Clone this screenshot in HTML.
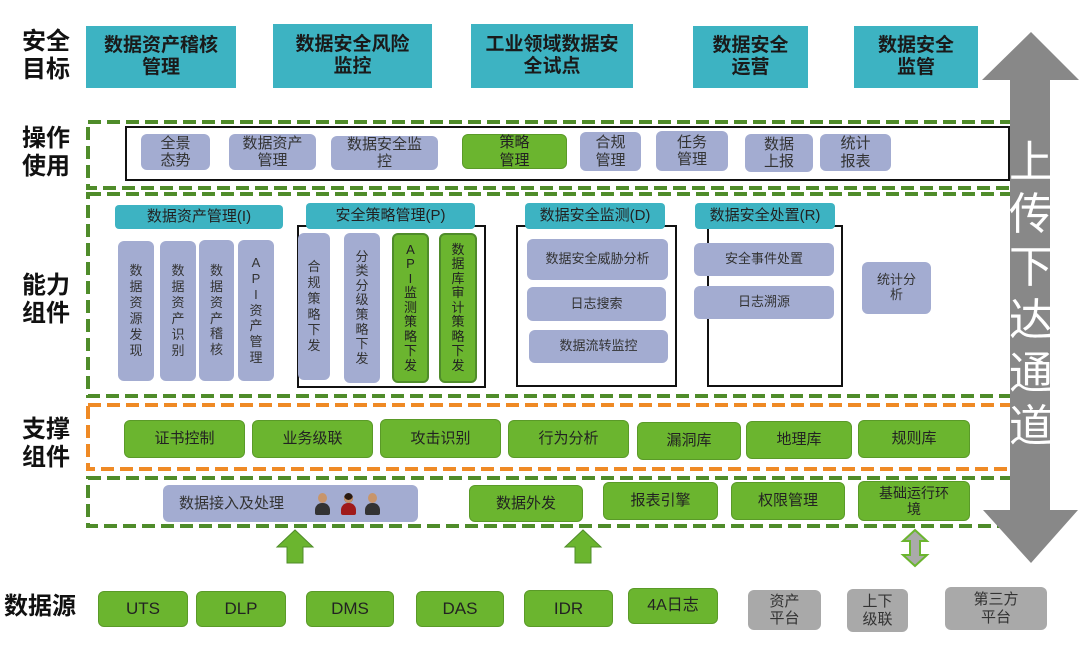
<!DOCTYPE html>
<html><head><meta charset="utf-8"><style>
body{margin:0;width:1080px;height:645px;position:relative;background:#fff;overflow:hidden;font-family:"Liberation Sans","Noto Sans CJK SC",sans-serif;color:#222}
.a{position:absolute;display:flex;align-items:center;justify-content:center;text-align:center;box-sizing:border-box;line-height:1.15}
.t{background:#3db3c2;font-weight:bold;font-size:19px;color:#1a1a1a}
.l{background:#a3acd1;border-radius:6px;font-size:15px;color:#333}
.g{background:#6bb52f;border-radius:6px;font-size:15px;color:#222;border:1px solid #5a9a28}
.gy{background:#a9a9a9;border-radius:6px;font-size:15px;color:#333}
.lab{position:absolute;font-weight:bold;font-size:24px;line-height:1.15;color:#111}
.v{font-size:13px;line-height:1.22;padding:0}
.hd{background:#3db3c2;border-radius:4px;font-size:15px;color:#222}
.box{position:absolute;border:2px solid #111;box-sizing:border-box}
.p{display:inline-block;width:14px;height:22px;margin-left:3px;position:relative;vertical-align:middle}
.p:before{content:"";position:absolute;left:3px;top:0;width:9px;height:10px;border-radius:50%;background:#c8956a}
.p:after{content:"";position:absolute;left:0;top:10px;width:15px;height:12px;border-radius:7px 7px 2px 2px;background:#333}
.p.r:after{background:#a01a1a}
.p.r:before{background:#2a1a10;box-shadow:inset 0 -3px 0 #c8956a}
</style></head><body>
<svg width="1080" height="645" style="position:absolute;left:0;top:0">
<g fill="none" stroke-width="4" stroke-dasharray="13,6">
<rect x="88" y="122" width="950" height="66" stroke="#4f8c2a"/>
<rect x="88" y="194" width="950" height="202" stroke="#4f8c2a"/>
<rect x="88" y="405" width="950" height="64" stroke="#ef8a25"/>
<rect x="88" y="478" width="950" height="48" stroke="#4f8c2a"/>
</g>
<polygon points="1031,32 1079,80 1050,80 1050,510 1078,510 1031,563 983,510 1010,510 1010,80 982,80" fill="#888"/>
<polygon points="277,547 295,530 313,547 303,547 303,563 287,563 287,547" fill="#6bb52f" stroke="#4f8c2a"/>
<polygon points="565,547 583,530 601,547 591,547 591,563 575,563 575,547" fill="#6bb52f" stroke="#4f8c2a"/>
<polygon points="915,530 927,541 920,541 920,555 927,555 915,566 903,555 910,555 910,541 903,541" fill="#aaa" stroke="#6bb52f" stroke-width="2"/>
</svg>
<div class="a" style="left:1000px;top:135px;width:62px;height:320px;flex-direction:column;color:#fff;font-size:44px;line-height:1.2">上<br>传<br>下<br>达<br>通<br>道</div>

<div class="lab" style="left:22px;top:28px">安全<br>目标</div>
<div class="lab" style="left:22px;top:125px">操作<br>使用</div>
<div class="lab" style="left:22px;top:272px">能力<br>组件</div>
<div class="lab" style="left:22px;top:416px">支撑<br>组件</div>
<div class="lab" style="left:4px;top:593px">数据源</div>

<div class="a t" style="left:86px;top:26px;width:150px;height:62px">数据资产稽核<br>管理</div>
<div class="a t" style="left:273px;top:24px;width:159px;height:64px">数据安全风险<br>监控</div>
<div class="a t" style="left:471px;top:24px;width:162px;height:64px">工业领域数据安<br>全试点</div>
<div class="a t" style="left:693px;top:26px;width:115px;height:62px">数据安全<br>运营</div>
<div class="a t" style="left:854px;top:26px;width:124px;height:62px">数据安全<br>监管</div>

<div class="box" style="left:125px;top:126px;width:885px;height:55px"></div>
<div class="a l" style="left:141px;top:134px;width:69px;height:36px">全景<br>态势</div>
<div class="a l" style="left:229px;top:134px;width:87px;height:36px">数据资产<br>管理</div>
<div class="a l" style="left:331px;top:136px;width:107px;height:34px">数据安全监<br>控</div>
<div class="a g" style="left:462px;top:134px;width:105px;height:35px">策略<br>管理</div>
<div class="a l" style="left:580px;top:132px;width:61px;height:39px">合规<br>管理</div>
<div class="a l" style="left:656px;top:131px;width:72px;height:40px">任务<br>管理</div>
<div class="a l" style="left:745px;top:134px;width:68px;height:38px">数据<br>上报</div>
<div class="a l" style="left:820px;top:134px;width:71px;height:37px">统计<br>报表</div>

<div class="box" style="left:297px;top:225px;width:189px;height:163px"></div>
<div class="box" style="left:516px;top:225px;width:161px;height:162px"></div>
<div class="box" style="left:707px;top:225px;width:136px;height:162px"></div>
<div class="a hd" style="left:115px;top:205px;width:168px;height:24px">数据资产管理(I)</div>
<div class="a hd" style="left:306px;top:203px;width:169px;height:26px">安全策略管理(P)</div>
<div class="a hd" style="left:525px;top:203px;width:140px;height:26px">数据安全监测(D)</div>
<div class="a hd" style="left:695px;top:203px;width:140px;height:26px">数据安全处置(R)</div>

<div class="a l v" style="left:118px;top:241px;width:36px;height:140px">数<br>据<br>资<br>源<br>发<br>现</div>
<div class="a l v" style="left:160px;top:241px;width:36px;height:140px">数<br>据<br>资<br>产<br>识<br>别</div>
<div class="a l v" style="left:199px;top:240px;width:35px;height:141px">数<br>据<br>资<br>产<br>稽<br>核</div>
<div class="a l v" style="left:238px;top:240px;width:36px;height:141px">A<br>P<br>I<br>资<br>产<br>管<br>理</div>
<div class="a l v" style="left:298px;top:233px;width:32px;height:147px">合<br>规<br>策<br>略<br>下<br>发</div>
<div class="a l v" style="left:344px;top:233px;width:36px;height:150px;line-height:1.12">分<br>类<br>分<br>级<br>策<br>略<br>下<br>发</div>
<div class="a g v" style="left:392px;top:233px;width:37px;height:150px;border:2px solid #4f8c2a;line-height:1.12">A<br>P<br>I<br>监<br>测<br>策<br>略<br>下<br>发</div>
<div class="a g v" style="left:439px;top:233px;width:38px;height:150px;border:2px solid #4f8c2a;line-height:1.12">数<br>据<br>库<br>审<br>计<br>策<br>略<br>下<br>发</div>

<div class="a l" style="left:527px;top:239px;width:141px;height:41px;font-size:13px">数据安全威胁分析</div>
<div class="a l" style="left:527px;top:287px;width:139px;height:34px;font-size:13px">日志搜索</div>
<div class="a l" style="left:529px;top:330px;width:139px;height:33px;font-size:13px">数据流转监控</div>
<div class="a l" style="left:694px;top:243px;width:140px;height:33px;font-size:13px">安全事件处置</div>
<div class="a l" style="left:694px;top:286px;width:140px;height:33px;font-size:13px">日志溯源</div>
<div class="a l" style="left:862px;top:262px;width:69px;height:52px;font-size:13px">统计分<br>析</div>

<div class="a g" style="left:124px;top:420px;width:121px;height:38px">证书控制</div>
<div class="a g" style="left:252px;top:420px;width:121px;height:38px">业务级联</div>
<div class="a g" style="left:380px;top:419px;width:121px;height:39px">攻击识别</div>
<div class="a g" style="left:508px;top:420px;width:121px;height:38px">行为分析</div>
<div class="a g" style="left:637px;top:422px;width:104px;height:38px">漏洞库</div>
<div class="a g" style="left:746px;top:421px;width:106px;height:38px">地理库</div>
<div class="a g" style="left:858px;top:420px;width:112px;height:38px">规则库</div>

<div class="a l" style="left:163px;top:485px;width:255px;height:37px;justify-content:flex-start;padding-left:16px">数据接入及处理<span style="margin-left:28px"><span class="p"></span><span class="p r" style="margin-left:12px"></span><span class="p" style="margin-left:10px"></span></span></div>
<div class="a g" style="left:469px;top:485px;width:114px;height:37px">数据外发</div>
<div class="a g" style="left:603px;top:482px;width:115px;height:38px">报表引擎</div>
<div class="a g" style="left:731px;top:482px;width:114px;height:38px">权限管理</div>
<div class="a g" style="left:858px;top:481px;width:112px;height:40px;font-size:14px">基础运行环<br>境</div>

<div class="a g" style="left:98px;top:591px;width:90px;height:36px;font-size:17px">UTS</div>
<div class="a g" style="left:196px;top:591px;width:90px;height:36px;font-size:17px">DLP</div>
<div class="a g" style="left:306px;top:591px;width:88px;height:36px;font-size:17px">DMS</div>
<div class="a g" style="left:416px;top:591px;width:88px;height:36px;font-size:17px">DAS</div>
<div class="a g" style="left:524px;top:590px;width:89px;height:37px;font-size:17px">IDR</div>
<div class="a g" style="left:628px;top:588px;width:90px;height:36px;font-size:16px">4A日志</div>
<div class="a gy" style="left:748px;top:590px;width:73px;height:40px">资产<br>平台</div>
<div class="a gy" style="left:847px;top:589px;width:61px;height:43px">上下<br>级联</div>
<div class="a gy" style="left:945px;top:587px;width:102px;height:43px">第三方<br>平台</div>
</body></html>
